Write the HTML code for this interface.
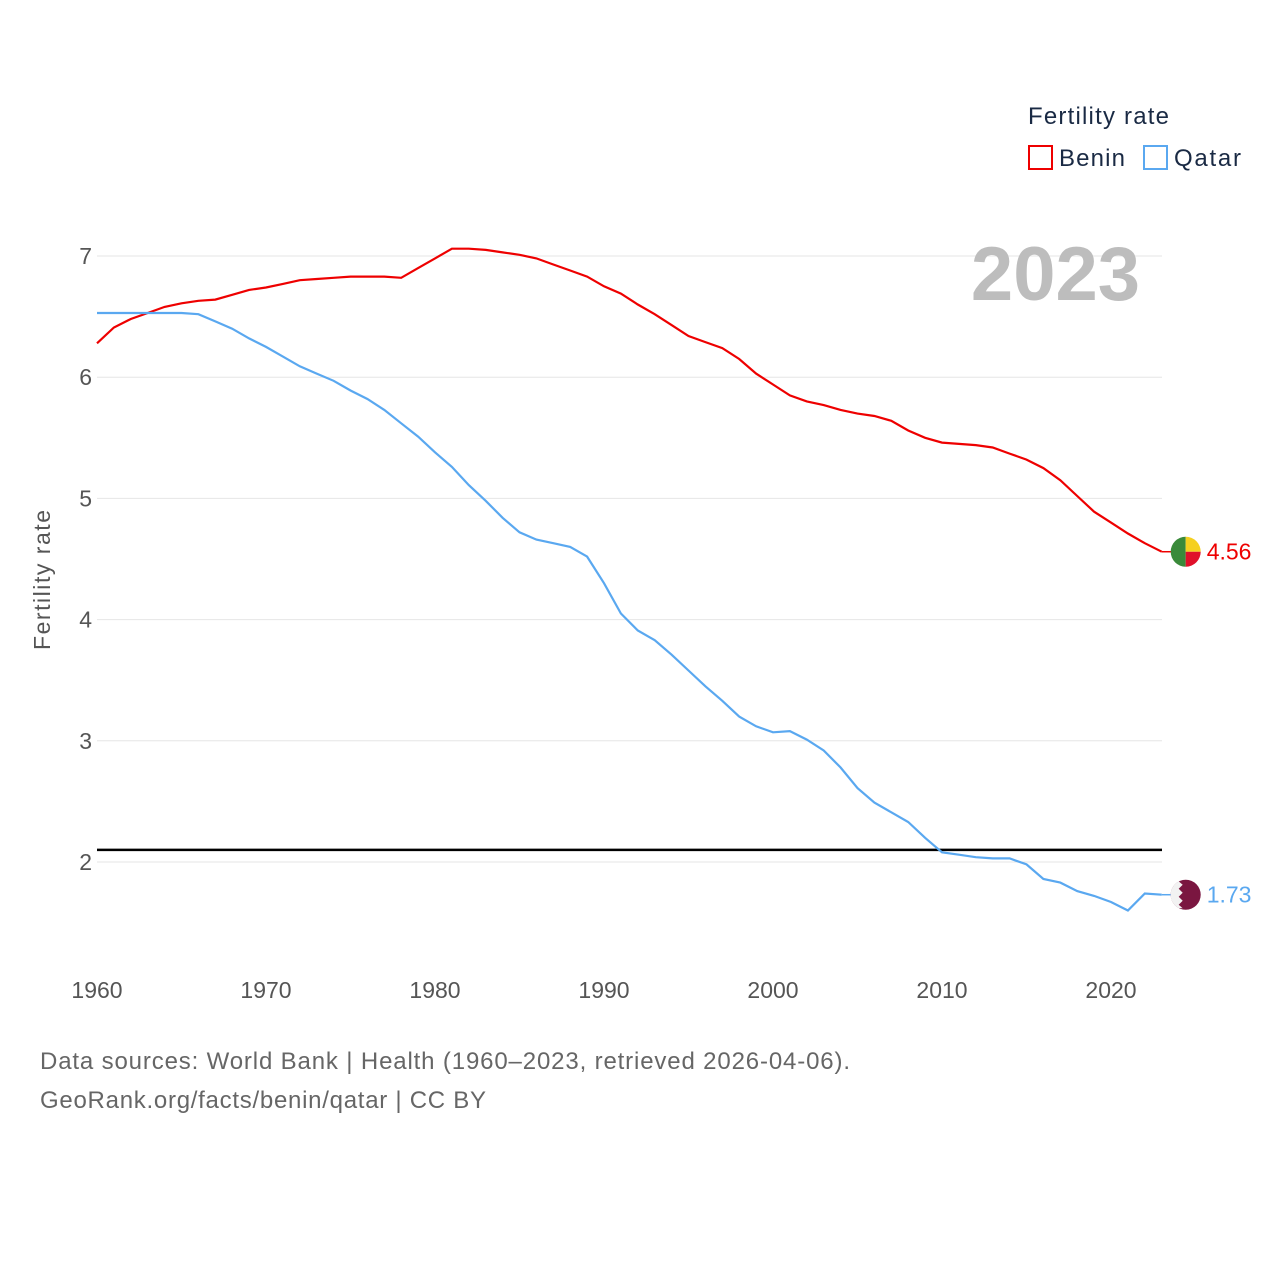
<!DOCTYPE html>
<html><head><meta charset="utf-8"><style>
body{margin:0;background:#fff;font-family:"Liberation Sans",sans-serif}
svg text{font-family:"Liberation Sans",sans-serif}
</style></head><body>
<svg id="chart" width="1280" height="1280" viewBox="0 0 1280 1280" xmlns="http://www.w3.org/2000/svg">
<rect width="1280" height="1280" fill="#fff"/>
<g id="grid"></g>
<g id="xt"></g>
<text x="1140" y="300" text-anchor="end" font-size="76" font-weight="bold" fill="#bdbdbd">2023</text>
<text transform="translate(50,580) rotate(-90)" text-anchor="middle" font-size="23" fill="#555" textLength="140">Fertility rate</text>
<line id="ref" x1="97" x2="1162" stroke="#000" stroke-width="2.5"/>
<g id="series"></g>
<g>
<text x="1028" y="124" font-size="24" fill="#1a2a44" textLength="141">Fertility rate</text>
<rect x="1029" y="146" width="23" height="23" fill="none" stroke="#e00" stroke-width="2"/>
<text x="1059" y="166" font-size="24" fill="#1a2a44" textLength="66">Benin</text>
<rect x="1144" y="146" width="23" height="23" fill="none" stroke="#5aa8f0" stroke-width="2"/>
<text x="1174" y="166" font-size="24" fill="#1a2a44" textLength="67">Qatar</text>
</g>
<text x="40" y="1069" font-size="24" fill="#666" textLength="810">Data sources: World Bank | Health (1960–2023, retrieved 2026-04-06).</text>
<text x="40" y="1108" font-size="24" fill="#666" textLength="446">GeoRank.org/facts/benin/qatar | CC BY</text>
</svg>
<script>
const years=[];for(let y=1960;y<=2023;y++)years.push(y);
const benin=[6.28,6.41,6.48,6.53,6.58,6.61,6.63,6.64,6.68,6.72,6.74,6.77,6.80,6.81,6.82,6.83,6.83,6.83,6.82,6.90,6.98,7.06,7.06,7.05,7.03,7.01,6.98,6.93,6.88,6.83,6.75,6.69,6.60,6.52,6.43,6.34,6.29,6.24,6.15,6.03,5.94,5.85,5.80,5.77,5.73,5.70,5.68,5.64,5.56,5.50,5.46,5.45,5.44,5.42,5.37,5.32,5.25,5.15,5.02,4.89,4.80,4.71,4.63,4.56];
const qatar=[6.53,6.53,6.53,6.53,6.53,6.53,6.52,6.46,6.40,6.32,6.25,6.17,6.09,6.03,5.97,5.89,5.82,5.73,5.62,5.51,5.38,5.26,5.11,4.98,4.84,4.72,4.66,4.63,4.60,4.52,4.30,4.05,3.91,3.83,3.71,3.58,3.45,3.33,3.20,3.12,3.07,3.08,3.01,2.92,2.78,2.61,2.49,2.41,2.33,2.20,2.08,2.06,2.04,2.03,2.03,1.98,1.86,1.83,1.76,1.72,1.67,1.60,1.74,1.73];
const yTicks=[2,3,4,5,6,7];
const xTicks=[1960,1970,1980,1990,2000,2010,2020];
const replacement=[2.1];
const X=y=>97+(y-1960)*16.9, Y=v=>862-(v-2)*121.2;
const NS="http://www.w3.org/2000/svg";
function mk(t,a,p){const e=document.createElementNS(NS,t);for(const k in a)e.setAttribute(k,a[k]);p.appendChild(e);return e;}
const g=document.getElementById('grid');
yTicks.forEach(v=>{
 const l=mk('line',{x1:97,x2:1162,y1:Y(v),y2:Y(v),stroke:'#e6e6e6','stroke-width':1},g);
 
 
 const t=mk('text',{x:92,y:Y(v)+8,'text-anchor':'end','font-size':23,fill:'#555'},g);
 t.textContent=v;
 
 
});
const xt=document.getElementById('xt');
xTicks.forEach(v=>{
 const t=mk('text',{x:X(v),y:998,'text-anchor':'middle','font-size':23,fill:'#555'},xt);
 t.textContent=v;
 
 
});
const r=document.getElementById('ref');r.setAttribute('y1',Y(replacement[0]));r.setAttribute('y2',Y(replacement[0]));
const s=document.getElementById('series');
[[benin,'#e00','benin'],[qatar,'#5aa8f0','qatar']].forEach(([d,c,n])=>{
 const p=mk('path',{d:d.map((v,i)=>(i?'L':'M')+X(years[i]).toFixed(1)+','+Y(v).toFixed(1)).join(''),fill:'none',stroke:c,'stroke-width':2.2},s);
 
 
 const last=d[d.length-1],cx=X(2023)+24,cy=Y(last);
 const ln=mk('line',{x1:X(2023),x2:cx-14,y1:cy,y2:cy,stroke:c,'stroke-width':1.5},s);
 
 
 const f=mk('g',{},s);
 
 
 if(n==='benin'){
  mk('path',{d:`M${cx},${cy-15}A15,15 0 0 0 ${cx},${cy+15}Z`,fill:'#3a8a3a'},f);
  mk('path',{d:`M${cx},${cy-15}A15,15 0 0 1 ${cx+15},${cy}L${cx},${cy}Z`,fill:'#f5d020'},f);
  mk('path',{d:`M${cx},${cy+15}A15,15 0 0 0 ${cx+15},${cy}L${cx},${cy}Z`,fill:'#e0102a'},f);
 }else{
  mk('circle',{cx:cx,cy:cy,r:15,fill:'#7a1640'},f);
  mk('path',{d:`M${cx-7},${cy-13.3}L${cx-3},${cy-10}L${cx-7},${cy-6}L${cx-3},${cy-2}L${cx-7},${cy+2}L${cx-3},${cy+6}L${cx-7},${cy+10}L${cx-3},${cy+13.5}L${cx-7},${cy+13.3}A15,15 0 0 1 ${cx-7},${cy-13.3}Z`,fill:'#f2f2f2'},f);
 }
 const t=mk('text',{x:cx+21,y:cy+8,'font-size':23,fill:c},s);
 t.textContent=last.toFixed(2);
 
 
});
</script>
</body></html>
